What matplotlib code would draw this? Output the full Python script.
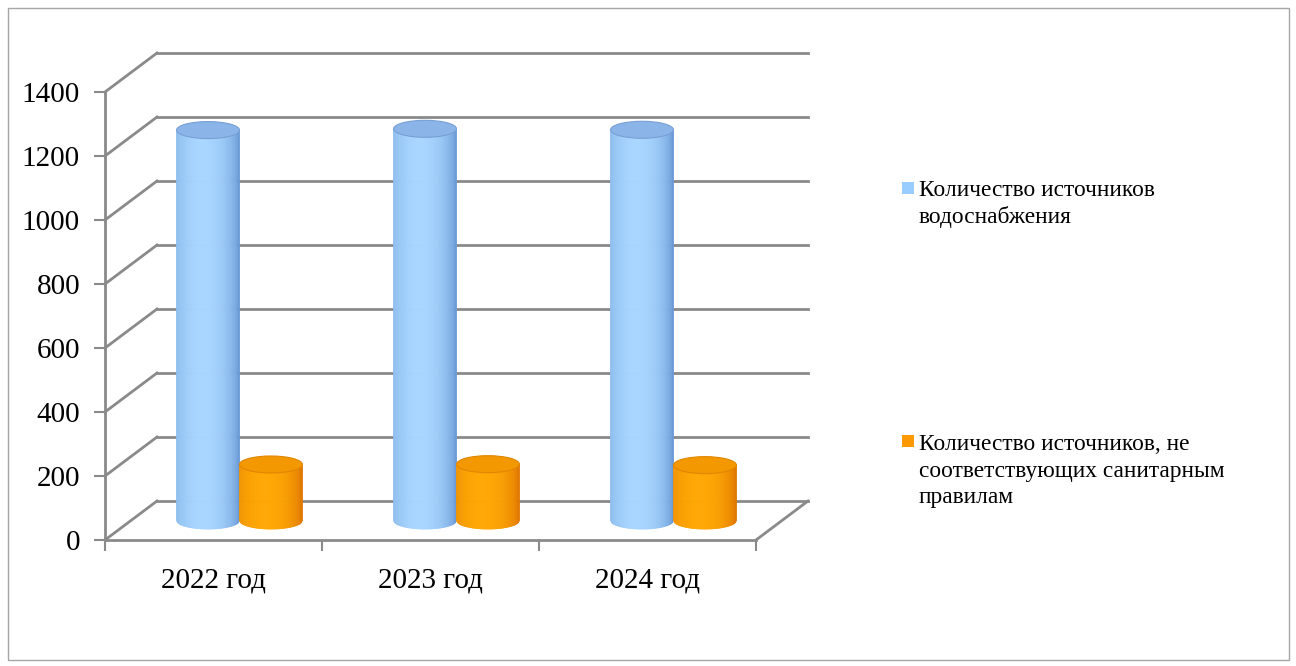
import numpy as np
import matplotlib
matplotlib.use("Agg")
import matplotlib.pyplot as plt
from matplotlib.collections import PolyCollection
from matplotlib.patches import Ellipse, Rectangle
from matplotlib.lines import Line2D
from matplotlib.transforms import IdentityTransform, offset_copy

plt.rcParams['font.family'] = ['Liberation Serif', 'DejaVu Serif']

categories = ['2022 год', '2023 год', '2024 год']
series_names = ['Количество источников\nводоснабжения',
                'Количество источников, не\nсоответствующих санитарным\nправилам']
water_sources = [1220, 1224, 1221]
noncompliant = [175, 176, 173]
y_ticks = [0, 200, 400, 600, 800, 1000, 1200, 1400]

legend_colors = ['#99CCFF', '#FF9900']
GRID = '#8a8a8a'

W, H = 1296, 666
fig = plt.figure(figsize=(W / 100, H / 100), dpi=100)
fig.patch.set_facecolor('white')

# front plane of the 3-D box: category axis along x, values along y
ax = fig.add_axes([105 / W, (H - 540) / H, 651 / W, 448 / H])
ax.set_facecolor('none')
ax.set_xlim(0, len(categories))
ax.set_ylim(0, 1400)

# depth offsets (pixels) for the back wall and the middle of the box
back = offset_copy(ax.transData, fig=fig, x=52, y=39, units='dots')
mid = offset_copy(ax.transData, fig=fig, x=26, y=19.5, units='dots')
ident = IdentityTransform()

for s in ['top', 'right']:
    ax.spines[s].set_visible(False)
for s in ['left', 'bottom']:
    ax.spines[s].set_color(GRID)
    ax.spines[s].set_linewidth(2)

ax.set_yticks(y_ticks)
ax.set_yticklabels([str(v) for v in y_ticks])
ax.tick_params(axis='y', length=8, width=1.5, color=GRID, pad=10, labelsize=21)
ax.set_xticks(np.arange(len(categories) + 1))
ax.set_xticklabels([])
ax.set_xticks(np.arange(len(categories)) + 0.5, minor=True)
ax.set_xticklabels(categories, minor=True)
ax.tick_params(axis='x', which='major', length=8, width=1.5, color=GRID)
ax.tick_params(axis='x', which='minor', length=0, pad=20, labelsize=21)

# back wall gridlines and their diagonal links to the value axis
for v in y_ticks:
    ax.add_line(Line2D([0, len(categories)], [v, v], transform=back,
                       color=GRID, lw=2, zorder=1, clip_on=False))
    p0 = ax.transData.transform((0, v))
    p1 = back.transform((0, v))
    ax.add_line(Line2D([p0[0], p1[0]], [p0[1], p1[1]], transform=ident,
                       color=GRID, lw=2, zorder=1, clip_on=False))
# right edge of the floor
p0 = ax.transData.transform((len(categories), 0))
p1 = back.transform((len(categories), 0))
ax.add_line(Line2D([p0[0], p1[0]], [p0[1], p1[1]], transform=ident,
                   color=GRID, lw=2, zorder=1, clip_on=False))


def cylinder(xc, value, width, edge, center, top_face, top_edge, z):
    edge = np.array(edge)
    center = np.array(center)
    xl, yb = mid.transform((xc - width / 2, 0))
    xr, yt = mid.transform((xc + width / 2, value))
    cx, rx, ry = (xl + xr) / 2, (xr - xl) / 2, 8.5

    def ybot(x):
        return yb - ry * np.sqrt(max(0.0, 1 - ((x - cx) / rx) ** 2))

    xs = np.linspace(xl, xr, 61)
    polys, cols = [], []
    for a, b in zip(xs[:-1], xs[1:]):
        t = ((a + b) / 2 - cx) / rx
        s = np.clip(1 - ((t + 0.15) / 1.15) ** 2, 0, 1) ** 0.6
        polys.append([(a, yt), (a, ybot(a)), (b, ybot(b)), (b, yt)])
        cols.append(tuple(edge + (center - edge) * s))
    pc = PolyCollection(polys, facecolors=cols, edgecolors=cols, linewidths=0.6,
                        transform=ident, zorder=z, clip_on=False)
    ax.add_collection(pc, autolim=False)
    ax.add_patch(Ellipse((cx, yt), 2 * rx, 2 * ry, facecolor=top_face,
                         edgecolor=top_edge, lw=0.8, transform=ident,
                         zorder=z + 0.1, clip_on=False))


bar_w = 0.29
offset = 0.145
for i in range(len(categories)):
    cylinder(i + 0.5 - offset, water_sources[i], bar_w,
             (0.38, 0.57, 0.82), (0.66, 0.84, 1.0), '#8bb5e9', '#779fd5', 3 + i)
    cylinder(i + 0.5 + offset, noncompliant[i], bar_w,
             (0.86, 0.44, 0.0), (1.0, 0.66, 0.02), '#f39800', '#e08600', 3.5 + i)

# legend
def fig_xy(x, y):
    return x / W, (H - y) / H

legend_items = [(182, 204), (435, 471)]
for (sq_top, text_mid), name, col in zip(legend_items, series_names, legend_colors):
    fig.add_artist(Rectangle((902, H - sq_top - 12), 12, 12, facecolor=col,
                             edgecolor='none', transform=ident))
    fig.text(*fig_xy(919, text_mid), name, fontsize=16.8, va='center', ha='left',
             linespacing=1.33, color='black')

# chart frame
fig.add_artist(Rectangle((8, 6), 1281, 652, facecolor='none', edgecolor='#a6a6a6',
                         lw=1, transform=ident))

fig.savefig('out.png', dpi=100)
